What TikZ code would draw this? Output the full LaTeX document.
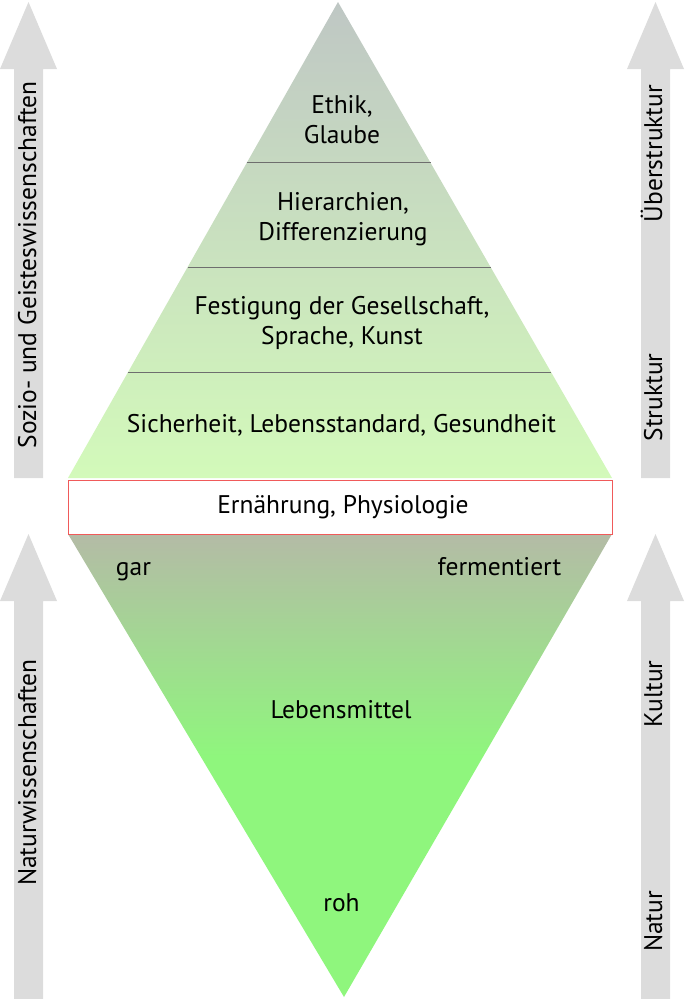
\documentclass[tikz,border=0pt]{standalone}
\usepackage{fontspec}
\setmainfont{PT Sans}
\usetikzlibrary{calc,positioning}

\definecolor{arrowgray}{HTML}{DCDCDC}
\definecolor{pyrtop}{HTML}{BFC7C4}
\definecolor{pyrbot}{HTML}{D3FABA}
\definecolor{foodtop}{HTML}{B4BBA6}
\definecolor{foodbot}{HTML}{8FF67D}
\definecolor{boxred}{HTML}{F05A5A}

\pgfdeclareverticalshading{foodshade}{100bp}{color(0bp)=(foodbot); color(51bp)=(foodbot); color(75bp)=(foodtop); color(100bp)=(foodtop)}

\tikzset{
  layertext/.style={align=center,font=\fontsize{25.5}{30}\selectfont,inner sep=0pt,anchor=base},
  sidetext/.style={rotate=90,font=\fontsize{25.5}{30}\selectfont,inner sep=0pt,anchor=base},
  layerline/.style={draw=black!57,line width=1.2pt},
}

\begin{document}
\begin{tikzpicture}[x=1pt,y=-1pt]

  \useasboundingbox (0,0) rectangle (685,999);

  % grey arrows at both sides
  \foreach \xa/\ya/\yb in {28.5/2/478,28.5/534/999,655.5/2/478,655.5/534/999}{
    \fill[arrowgray] (\xa-14.5,\yb) -- (\xa-14.5,\ya+67) -- (\xa-28.5,\ya+67) -- (\xa,\ya)
      -- (\xa+28.5,\ya+67) -- (\xa+14.5,\ya+67) -- (\xa+14.5,\yb) -- cycle;
  }

  % upper pyramid
  \coordinate (top) at (338,2);
  \coordinate (bl) at (68,478);
  \coordinate (br) at (612,478);
  \shade[top color=pyrtop,bottom color=pyrbot] (top) -- (br) -- (bl) -- cycle;

  \foreach \f in {0.338,0.557,0.779}{
    \draw[layerline] ($(top)!\f!(bl)$) -- ($(top)!\f!(br)$);
  }

  % lower pyramid
  \coordinate (tl) at (68,534);
  \coordinate (tr) at (612,534);
  \coordinate (bottom) at (344,997);
  \shade[shading=foodshade] (tl) -- (tr) -- (bottom) -- cycle;

  \node [draw=boxred,line width=1.4pt,fill=white,minimum width=544pt,minimum height=54pt,anchor=north west] at(68,480) (ernaehrung) {};
  \node [layertext] at(343,513.5) (ernaehrung_text) {Ernährung, Physiologie};

  % two-line nodes sit on the baseline of their last line
  \node [layertext] at(342,143) (ethik) {Ethik,\\Glaube};
  \node [layertext] at(343,240) (hierarchien) {Hierarchien,\\Differenzierung};
  \node [layertext] at(342,344) (festigung) {Festigung der Gesellschaft,\\Sprache, Kunst};
  \node [layertext] at(341.5,432) (sicherheit) {Sicherheit, Lebensstandard, Gesundheit};

  \node [layertext] at(133.5,575) (gar) {gar};
  \node [layertext] at(499.5,575) (fermentiert) {fermentiert};
  \node [layertext] at(341,718.5) (lebensmittel) {Lebensmittel};
  \node [layertext] at(341.5,911.5) (roh) {roh};

  \node [sidetext] at(36,265) (sozio) {Sozio- und Geisteswissenschaften};
  \node [sidetext] at(36,772.5) (natwiss) {Naturwissenschaften};
  \node [sidetext] at(662,153.5) (ueberstruktur) {Überstruktur};
  \node [sidetext] at(662,397.5) (struktur) {Struktur};
  \node [sidetext] at(662,694) (kultur) {Kultur};
  \node [sidetext] at(662,921.5) (natur) {Natur};

\end{tikzpicture}
\end{document}
